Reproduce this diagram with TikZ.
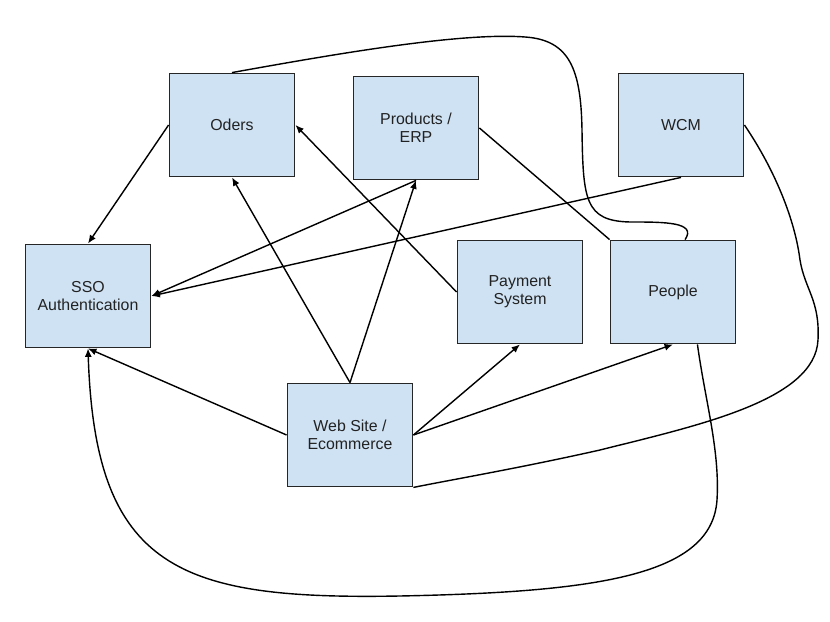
\documentclass[tikz,border=0pt]{standalone}
\usepackage{fontspec}
\setmainfont{Liberation Sans}
\usetikzlibrary{arrows.meta}
\definecolor{boxblue}{HTML}{CFE2F3}
\definecolor{txtgray}{HTML}{222222}
\begin{document}
\begin{tikzpicture}[x=0.025cm,y=-0.025cm,
        box/.style={draw=black!85,line width=1.3pt,fill=boxblue,minimum width=3.125cm,minimum height=2.575cm,align=center,text=txtgray,font=\fontsize{11.3}{13}\selectfont},
        link/.style={line width=1pt},
        arr/.style={line width=1pt,-{Latex[length=6pt,width=5pt]}}]
        \useasboundingbox[fill=white] (0,0) rectangle (830,622);
        \node[box] (oders) at (232,125) {Oders};
        \node[box] (products) at (416,128) {Products /\\ERP};
        \node[box] (wcm) at (681,125) {WCM};
        \node[box] (sso) at (88,296) {SSO\\Authentication};
        \node[box] (payment) at (520,292) {Payment\\System};
        \node[box] (people) at (673,292) {People};
        \node[box] (web) at (350,435) {Web Site /\\Ecommerce};
        \draw[arr] (oders.west)--(sso.north);
        \draw[arr] (web.north)--(oders.south);
        \draw[arr] (web.north)--(products.south);
        \draw[arr] (products.south)--(sso.east);
        \draw[arr] (wcm.south)--(sso.east);
        \draw[arr] (payment.west)--(oders.east);
        \draw[link] (products.east)--(people.north west);
        \draw[arr] (web.west)--(sso.south);
        \draw[arr] (web.east)--(payment.south);
        \draw[arr] (web.east)--(people.south);
        \draw[link] (oders.north) .. controls (330,55) and (460,32) .. (525,37)
            .. controls (570,40) and (581,70) .. (582,130)
            .. controls (583,200) and (585,221) .. (630,222)
            .. controls (665,222) and (697,222) .. (people.77);
        \draw[link] (wcm.east) .. controls (775,170) and (795,220) .. (800,260)
            .. controls (805,290) and (820,300) .. (818,340)
            .. controls (815,400) and (700,425) .. (600,450)
            .. controls (520,468) and (450,480) .. (web.south east);
        \draw[arr] (people.-65) .. controls (705,400) and (720,450) .. (717,500)
            .. controls (712,575) and (600,592) .. (400,596)
            .. controls (180,600) and (95,570) .. (sso.south);
    \end{tikzpicture}
\end{document}
